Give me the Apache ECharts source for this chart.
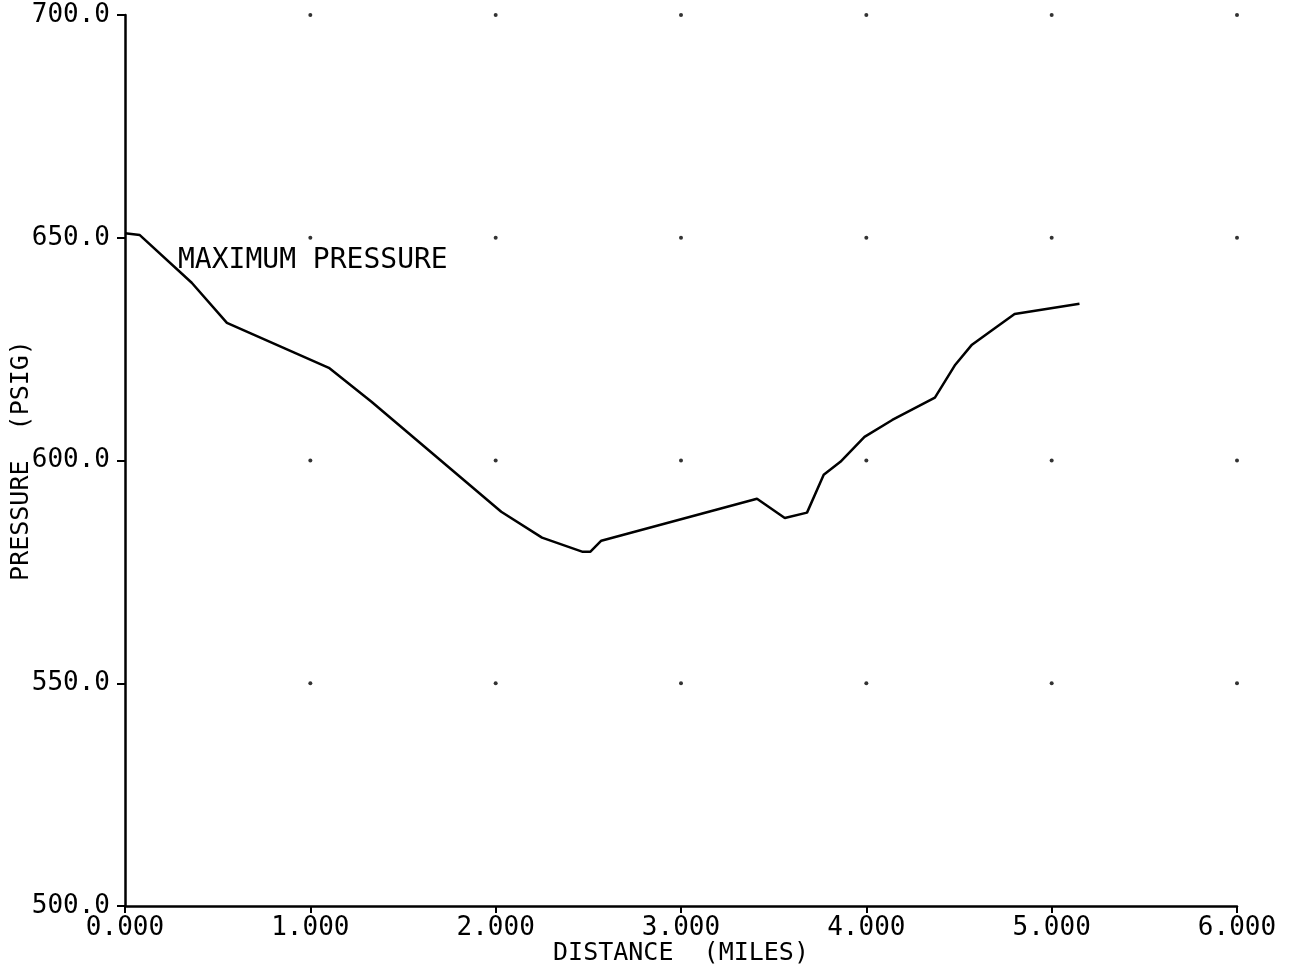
<!DOCTYPE html>
<html>
<head>
<meta charset="utf-8">
<script src="https://cdn.jsdelivr.net/npm/echarts@6/dist/echarts.min.js"></script>
<style>
html,body{margin:0;padding:0;background:#fff;}
#chart{width:1290px;height:973px;}
</style>
</head>
<body>
<div id="chart"></div>
<script>
// Data
const distance = [0, 0.08, 0.36, 0.55, 1.10, 1.33, 2.03, 2.25, 2.47, 2.51, 2.57, 3.41, 3.56, 3.68, 3.77, 3.86, 3.99, 4.14, 4.37, 4.48, 4.57, 4.68, 4.80, 5.15];
const pressure = [651.0, 650.6, 639.9, 630.9, 620.8, 613.2, 588.5, 582.7, 579.5, 579.5, 582.0, 591.4, 587.1, 588.3, 596.8, 599.7, 605.3, 609.1, 614.1, 621.5, 626.0, 629.3, 632.9, 635.2];
const xTicks = [1, 2, 3, 4, 5, 6];
const yTicks = [550, 600, 650, 700];
const annotation = 'MAXIMUM PRESSURE';

const lineData = distance.map((d, i) => [d, pressure[i]]);
const dotData = [];
yTicks.forEach(y => xTicks.forEach(x => dotData.push([x, y])));

const font = '"DejaVu Sans Mono", "Liberation Mono", monospace';
const chart = echarts.init(document.getElementById('chart'), null, {renderer: 'canvas'});
chart.setOption({
  animation: false,
  backgroundColor: '#ffffff',
  grid: {left: 125, right: 53, top: 15, bottom: 67, containLabel: false, outerBoundsMode: 'none'},
  xAxis: {
    type: 'value', min: 0, max: 6, interval: 1,
    name: 'DISTANCE  (MILES)', nameLocation: 'middle', nameGap: 35,
    nameMoveOverlap: false,
    nameTextStyle: {fontFamily: font, fontSize: 25, color: '#000'},
    axisLine: {show: true, lineStyle: {color: '#000', width: 2.5}},
    axisTick: {show: true, length: 7, lineStyle: {color: '#000', width: 2}},
    axisLabel: {fontFamily: font, fontSize: 26, color: '#000', margin: 9,
      formatter: v => v.toFixed(3)},
    splitLine: {show: false}
  },
  yAxis: {
    type: 'value', min: 500, max: 700, interval: 50,
    name: 'PRESSURE  (PSIG)', nameLocation: 'middle', nameGap: 91,
    nameMoveOverlap: false,
    nameRotate: 90,
    nameTextStyle: {fontFamily: font, fontSize: 25, color: '#000'},
    axisLine: {show: true, lineStyle: {color: '#000', width: 2.5}},
    axisTick: {show: true, length: 8, lineStyle: {color: '#000', width: 2}},
    axisLabel: {fontFamily: font, fontSize: 26, color: '#000', margin: 15,
      formatter: v => v.toFixed(1)},
    splitLine: {show: false}
  },
  graphic: [{
    type: 'text', left: 178, top: 247,
    style: {text: annotation, font: '28px ' + font, fill: '#000'}
  }],
  series: [{
    type: 'scatter', data: dotData, symbol: 'circle', symbolSize: 4,
    itemStyle: {color: '#000'}, silent: true, z: 1
  }, {
    type: 'line', data: lineData, showSymbol: false, symbol: 'none',
    lineStyle: {color: '#000', width: 2.5}, z: 2
  }]
});
</script>
</body>
</html>
